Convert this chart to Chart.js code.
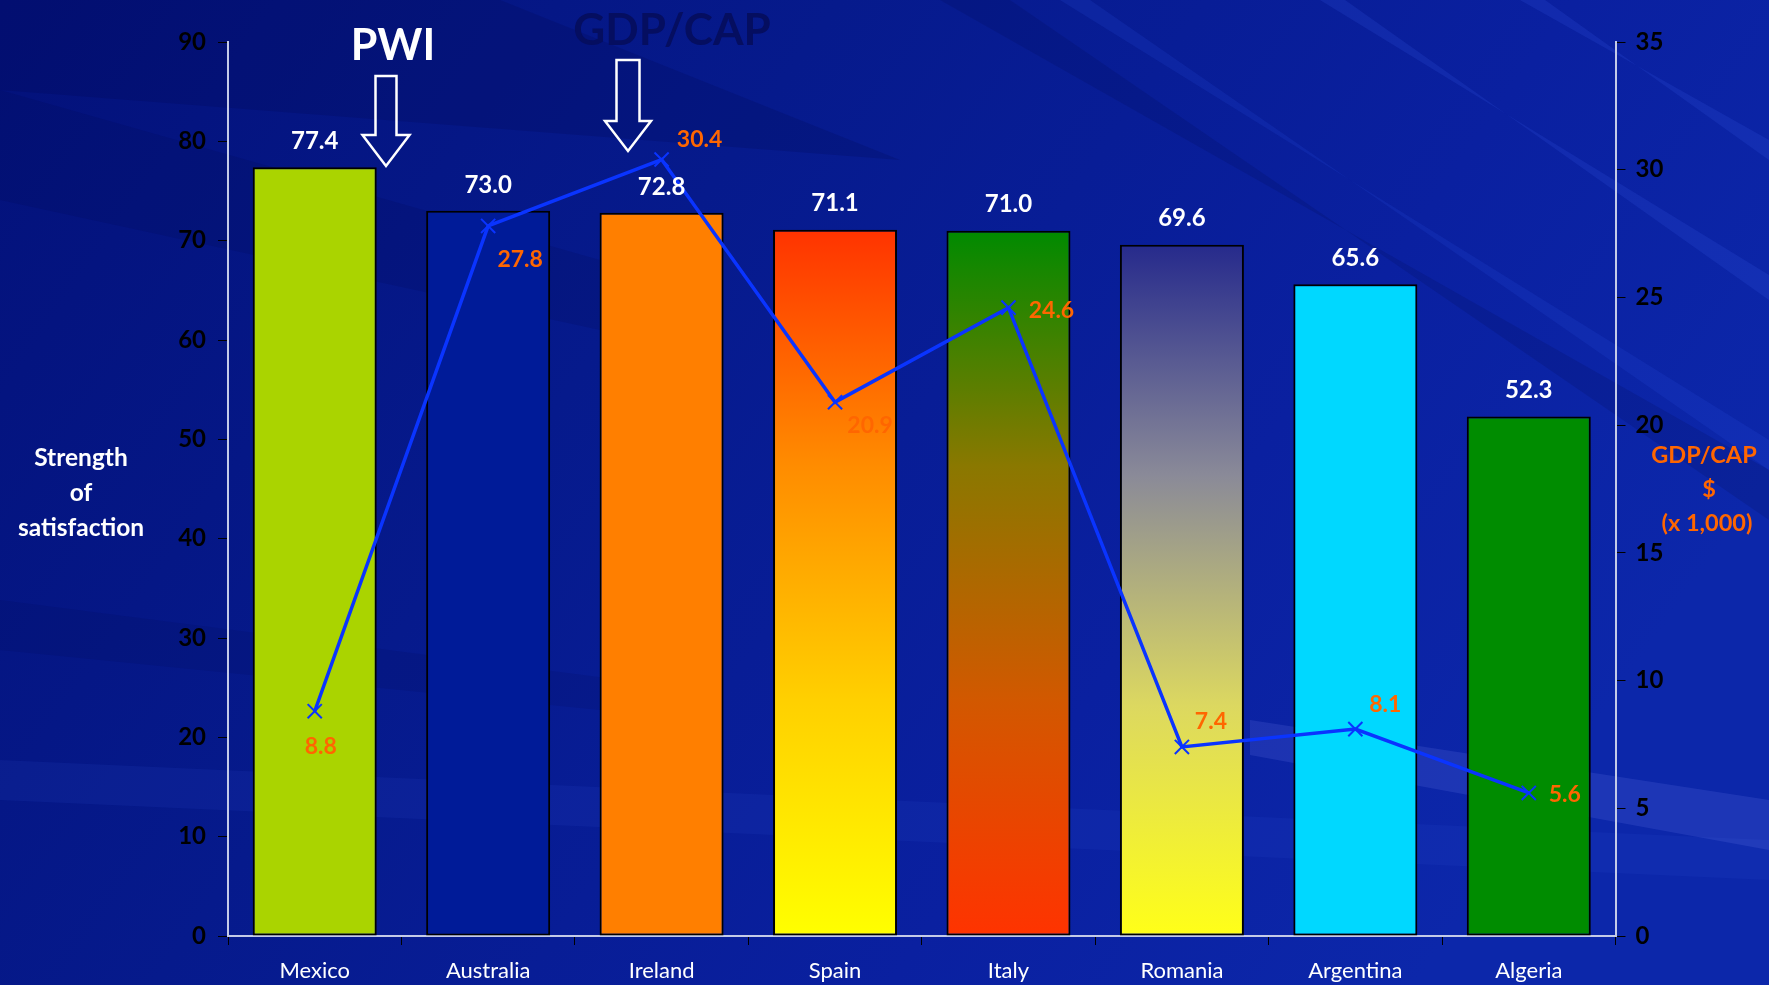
<!DOCTYPE html>
<html>
<head>
<meta charset="utf-8">
<title>PWI and GDP per capita</title>
<script src="https://cdn.jsdelivr.net/npm/chart.js@4.4.1/dist/chart.umd.min.js"></script>
<style>
  html, body { margin: 0; padding: 0; background: #0a1f9a; overflow: hidden; }
  #wrap { width: 1769px; height: 985px; }
</style>
</head>
<body>
<div id="wrap"><canvas id="pwi-chart" width="1769" height="985"></canvas></div>
<script>
const countries = ['Mexico', 'Australia', 'Ireland', 'Spain', 'Italy', 'Romania', 'Argentina', 'Algeria'];
const pwi = [77.4, 73.0, 72.8, 71.1, 71.0, 69.6, 65.6, 52.3];
const gdpPerCap = [8.8, 27.8, 30.4, 20.9, 24.6, 7.4, 8.1, 5.6];
const pwiRange = [0, 90, 10];
const gdpRange = [0, 35, 5];

// one colour = flat fill, several = top-to-bottom gradient
const barFills = [
    ['#aad400'],
    ['#001b98'],
    ['#ff7f00'],
    ['#ff3300', '#ff8c00', '#ffd000', '#ffff00'],
    ['#008a00', '#8a7800', '#d25800', '#ff3300'],
    ['#262a8c', '#8a8a98', '#dcd860', '#ffff18'],
    ['#00d8ff'],
    ['#008c00']
];
// where each GDP label sits relative to its point
const gdpLabelOffsets = [[6, 35], [32, 34], [38, -20], [35, 23], [43, 3], [29, -25], [30, -25], [36, 2]];

const FONT = 'Lato, "Open Sans", sans-serif';
const ORANGE = '#ff6600';
const AXIS_LINE = '#c4cbe8';

function barFill(ctx) {
    const stops = barFills[ctx.dataIndex];
    if (stops.length === 1) return stops[0];
    const chart = ctx.chart;
    if (!chart.chartArea) return stops[0];
    const y = chart.scales.y;
    const top = y.getPixelForValue(ctx.raw);
    const bottom = y.getPixelForValue(0);
    const g = chart.ctx.createLinearGradient(0, top, 0, bottom);
    stops.forEach((c, i) => g.addColorStop(i / (stops.length - 1), c));
    return g;
}

// backdrop: dark-to-light blue with a few faint diagonal streaks
const backdrop = {
    id: 'backdrop',
    beforeDraw(chart) {
        const c = chart.ctx, w = chart.width, h = chart.height;
        c.save();
        const g = c.createLinearGradient(0, 0, w * 0.8, h);
        g.addColorStop(0, '#03117a');
        g.addColorStop(0.4, '#061a8c');
        g.addColorStop(0.75, '#0a20a0');
        g.addColorStop(1, '#0c27aa');
        c.fillStyle = g;
        c.fillRect(0, 0, w, h);
        const band = (pts, col) => {
            c.beginPath();
            c.moveTo(pts[0][0], pts[0][1]);
            for (let i = 1; i < pts.length; i++) c.lineTo(pts[i][0], pts[i][1]);
            c.closePath();
            c.fillStyle = col;
            c.fill();
        };
        band([[0, 0], [500, 0], [900, 160], [0, 90]], 'rgba(0,8,70,0.18)');
        band([[0, 90], [0, 200], [600, 330], [600, 260]], 'rgba(0,8,70,0.14)');
        band([[0, 600], [0, 650], [700, 720], [700, 690]], 'rgba(0,8,70,0.12)');
        band([[0, 760], [0, 800], [1769, 880], [1769, 840]], 'rgba(50,80,210,0.12)');
        band([[940, 0], [1010, 0], [1769, 520], [1769, 470]], 'rgba(0,8,70,0.15)');
        band([[1060, 0], [1090, 0], [1769, 470], [1769, 440]], 'rgba(50,90,240,0.14)');
        band([[1320, 0], [1345, 0], [1769, 300], [1769, 275]], 'rgba(60,100,240,0.16)');
        band([[1520, 0], [1545, 0], [1769, 160], [1769, 140]], 'rgba(60,100,240,0.16)');
        band([[1250, 720], [1769, 800], [1769, 850], [1250, 755]], 'rgba(110,130,240,0.18)');
        c.restore();
    }
};

function downArrow(c, cx, top, shaftW, headY, headW, tipY) {
    c.beginPath();
    c.moveTo(cx - shaftW / 2, top);
    c.lineTo(cx + shaftW / 2, top);
    c.lineTo(cx + shaftW / 2, headY);
    c.lineTo(cx + headW / 2, headY);
    c.lineTo(cx, tipY);
    c.lineTo(cx - headW / 2, headY);
    c.lineTo(cx - shaftW / 2, headY);
    c.closePath();
    c.stroke();
}

// value labels, titles and the two pointer arrows
const annotations = {
    id: 'annotations',
    afterDatasetsDraw(chart) {
        const c = chart.ctx;
        c.save();
        c.textAlign = 'center';
        c.textBaseline = 'middle';

        c.font = 'bold 24px ' + FONT;
        c.fillStyle = '#ffffff';
        chart.getDatasetMeta(0).data.forEach((bar, i) => {
            c.fillText(pwi[i].toFixed(1), bar.x, bar.y - 26);
        });

        c.font = 'bold 23px ' + FONT;
        c.fillStyle = ORANGE;
        chart.getDatasetMeta(1).data.forEach((pt, i) => {
            const o = gdpLabelOffsets[i];
            c.fillText(gdpPerCap[i].toFixed(1), pt.x + o[0], pt.y + o[1]);
        });

        c.font = 'bold 24.5px ' + FONT;
        c.fillStyle = '#ffffff';
        ['Strength', 'of', 'satisfaction'].forEach((t, i) => c.fillText(t, 81, 458 + i * 35));

        c.font = 'bold 23.5px ' + FONT;
        c.fillStyle = ORANGE;
        c.fillText('GDP/CAP', 1704, 455);
        c.fillText('$', 1709, 489);
        c.fillText('(x 1,000)', 1707, 523);

        c.textBaseline = 'alphabetic';
        c.font = 'bold 43px ' + FONT;
        c.fillStyle = '#ffffff';
        c.fillText('PWI', 393, 60);
        c.font = 'bold 44px ' + FONT;
        c.fillStyle = '#050e60';
        c.fillText('GDP/CAP', 672, 45);

        c.strokeStyle = '#ffffff';
        c.lineWidth = 2.5;
        c.lineJoin = 'miter';
        downArrow(c, 386, 76, 21, 135, 47, 166);
        downArrow(c, 628, 60, 23, 121, 46, 151);
        c.restore();
    }
};

const tickFont = { family: FONT, size: 24, weight: 'bold' };

new Chart(document.getElementById('pwi-chart'), {
    type: 'bar',
    data: {
        labels: countries,
        datasets: [
            {
                label: 'PWI',
                data: pwi,
                yAxisID: 'y',
                backgroundColor: barFill,
                borderColor: '#000000',
                borderWidth: 2,
                borderSkipped: false,
                categoryPercentage: 1,
                barPercentage: 0.715,
                order: 1
            },
            {
                label: 'GDP/CAP',
                type: 'line',
                data: gdpPerCap,
                yAxisID: 'y2',
                borderColor: '#0a34ff',
                borderWidth: 3.5,
                pointStyle: 'crossRot',
                pointRadius: 10,
                pointBorderWidth: 2,
                pointBorderColor: '#0a34ff',
                fill: false,
                tension: 0,
                order: 0
            }
        ]
    },
    options: {
        responsive: false,
        animation: false,
        layout: { padding: { top: 42, left: 0, right: 0, bottom: 0 } },
        plugins: {
            legend: { display: false },
            tooltip: { enabled: false }
        },
        scales: {
            x: {
                offset: true,
                grid: { drawOnChartArea: false, color: '#000000', tickLength: 9, offset: true },
                border: { color: AXIS_LINE, width: 2 },
                ticks: { color: '#ffffff', font: { family: FONT, size: 22 }, padding: 13, maxRotation: 0 },
                afterFit: s => { s.height = 49; }
            },
            y: {
                position: 'left',
                min: pwiRange[0],
                max: pwiRange[1],
                ticks: { stepSize: pwiRange[2], color: '#000000', font: tickFont, padding: 12 },
                grid: { drawOnChartArea: false, color: '#000000', tickLength: 10 },
                border: { color: AXIS_LINE, width: 2 },
                afterFit: s => { s.width = 228; }
            },
            y2: {
                position: 'right',
                min: gdpRange[0],
                max: gdpRange[1],
                ticks: { stepSize: gdpRange[2], color: '#000000', font: tickFont, padding: 10 },
                grid: { drawOnChartArea: false, color: '#000000', tickLength: 10 },
                border: { color: AXIS_LINE, width: 2 },
                afterFit: s => { s.width = 153.5; }
            }
        }
    },
    plugins: [backdrop, annotations]
});
</script>
</body>
</html>
